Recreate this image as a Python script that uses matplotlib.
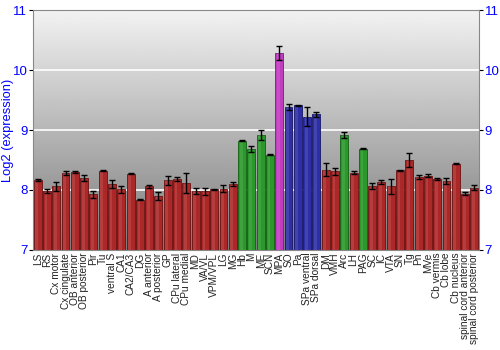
import matplotlib
matplotlib.use("Agg")
import matplotlib.pyplot as plt
import numpy as np

plt.rcParams['font.family'] = ['Liberation Sans', 'DejaVu Sans']

regions = ["LS", "RS", "Cx motor", "Cx cingulate", "OB anterior", "OB posterior", "Pir", "Tu",
           "ventral S", "CA1", "CA2/CA3", "DG", "A anterior", "A posterior", "GP", "CPu lateral",
           "CPu medial", "MD", "VA/VL", "VPM/VPL", "LG", "MG", "Hb", "M", "ME", "SCN", "MPA",
           "SO", "Pa", "SPa ventral", "SPa dorsal", "DM", "VMH", "Arc", "LH", "PAG", "SC", "IC",
           "VTA", "SN", "Tg", "Pn", "MVe", "Cb vermis", "Cb lobe", "Cb nucleus",
           "spinal cord anterior", "spinal cord posterior"]
values = [8.17, 7.98, 8.06, 8.28, 8.30, 8.20, 7.93, 8.32,
          8.10, 8.01, 8.27, 7.84, 8.06, 7.90, 8.16, 8.18,
          8.12, 7.98, 7.98, 8.01, 8.02, 8.10, 8.82, 8.69, 8.92, 8.59, 10.28,
          9.39, 9.41, 9.22, 9.26, 8.34, 8.31, 8.91, 8.29, 8.69, 8.07, 8.13,
          8.06, 8.33, 8.50, 8.22, 8.24, 8.18, 8.15, 8.44,
          7.94, 8.04]
errors = [0.02, 0.03, 0.08, 0.03, 0.01, 0.05, 0.06, 0.01,
          0.06, 0.06, 0.01, 0.01, 0.02, 0.07, 0.08, 0.03,
          0.17, 0.05, 0.06, 0.01, 0.06, 0.03, 0.01, 0.05, 0.08, 0.01, 0.12,
          0.05, 0.01, 0.16, 0.04, 0.11, 0.06, 0.05, 0.03, 0.01, 0.05, 0.03,
          0.12, 0.01, 0.11, 0.03, 0.03, 0.02, 0.05, 0.01,
          0.03, 0.04]
groups = ["r"] * 22 + ["g"] * 4 + ["m"] + ["b"] * 4 + ["r", "r", "g", "r", "g"] + ["r"] * 12

cmap = {"r": "#ac2828", "g": "#2a982a", "m": "#c03cc0", "b": "#2e2ea6"}
edge = {"r": "#6a1010", "g": "#125e12", "m": "#7e187e", "b": "#161666"}

fig = plt.figure(figsize=(5, 3.5), dpi=100)
ax = fig.add_axes([0.066, 0.286, 0.892, 0.685])

n = len(values)
x = np.arange(n)
heights = np.array(values) - 7

# gray gradient background, dark at the bottom
grad = np.linspace(0.48, 0.95, 256).reshape(-1, 1)
ax.imshow(grad, extent=(-0.5, n - 0.5, 7, 11), origin='lower', aspect='auto',
          cmap='gray', vmin=0, vmax=1, zorder=0)
for yv in [8, 9, 10]:
    ax.axhline(yv, color='white', lw=1.2, zorder=1)

ax.bar(x, heights, bottom=7, width=0.85,
       color=[cmap[g] for g in groups], edgecolor=[edge[g] for g in groups],
       linewidth=0.6, zorder=2)
# soft highlight to mimic the shaded bars
ax.bar(x - 0.1, heights, bottom=7, width=0.3, color='white', alpha=0.1,
       linewidth=0, zorder=2.5)
ax.errorbar(x, values, yerr=errors, fmt='none', ecolor='black', elinewidth=1,
            capsize=2, capthick=1, zorder=3)

ax.set_xlim(-0.5, n - 0.5)
ax.set_ylim(7, 11)
ax.set_xticks(x)
ax.set_xticklabels(regions, rotation=90, fontsize=7.3, color='#222222')
ax.set_yticks([7, 8, 9, 10, 11])
ax.tick_params(axis='y', labelcolor='blue', color='black', labelsize=9.5,
               right=True, labelright=True, length=3, pad=1)
ax.tick_params(axis='x', length=0, pad=2)
ax.set_ylabel("Log2 (expression)", color='blue', fontsize=9.3)
ax.yaxis.set_label_coords(-0.043, 0.5)
for s in ax.spines.values():
    s.set_color('#888888')

fig.savefig("out.png", dpi=100)
